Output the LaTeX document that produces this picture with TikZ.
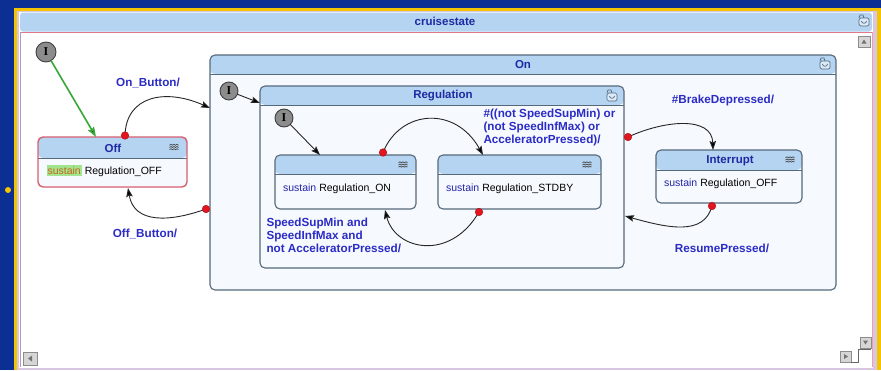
\documentclass[tikz,border=0pt]{standalone}
\usepackage{fontspec}
\setmainfont{Liberation Sans}
\newfontfamily\serifbold{Liberation Serif}
\usetikzlibrary{arrows.meta,calc}

\definecolor{deskblue}{HTML}{0B2F93}
\definecolor{frameyellow}{HTML}{F4C400}
\definecolor{winedge}{HTML}{D9C6E2}
\definecolor{headblue}{HTML}{B5D4F2}
\definecolor{bodyblue}{HTML}{F6FAFE}
\definecolor{edgegray}{HTML}{56697A}
\definecolor{labelblue}{HTML}{2B2BC6}
\definecolor{titleblue}{HTML}{1E2AA2}
\definecolor{dotred}{HTML}{E3151E}
\definecolor{offred}{HTML}{D65F70}
\definecolor{barred}{HTML}{E27887}
\definecolor{initgray}{HTML}{8C8C8C}
\definecolor{initgreen}{HTML}{38A838}
\definecolor{susgreen}{HTML}{A2E58E}
\definecolor{susorange}{HTML}{C8641E}
\definecolor{btngray}{HTML}{D6D6D6}

\tikzset{
  stateshape/.style={draw=edgegray, line width=1.1pt, rounded corners=5pt,
    fill=bodyblue, anchor=north west, inner sep=0pt,
    path picture={
      \fill[headblue] (path picture bounding box.north west) rectangle
        ([yshift=-#1]path picture bounding box.north east);
      \draw[edgegray, line width=1pt]
        ([yshift=-#1]path picture bounding box.north west) --
        ([yshift=-#1]path picture bounding box.north east);}},
  titletext/.style={font=\bfseries\fontsize{11.5}{13}\selectfont, text=titleblue},
  bodytext/.style={font=\fontsize{10.5}{12}\selectfont, text=black, anchor=base west},
  kwtext/.style={font=\fontsize{10.5}{12}\selectfont, text=labelblue!85!black, anchor=base west},
  lbl/.style={font=\bfseries\fontsize{11.7}{13}\selectfont, text=labelblue, align=left},
  initstate/.style={circle, draw=black!75, line width=0.9pt, fill=initgray,
    minimum size=#1, inner sep=0pt, font=\serifbold\bfseries\fontsize{12}{12}\selectfont},
  trans/.style={draw=black!85, line width=0.9pt,
    -{Stealth[length=9pt, width=6.5pt, inset=1.5pt, fill=black]}},
  reddot/.style={fill=dotred, draw=dotred!70!black, line width=0.4pt},
  leaficon/.pic={
    \foreach \dy in {-2.2,0,2.2}
      \draw[black!70, line width=0.7pt]
        (-4.5,\dy) -- (-3,\dy-1) -- (-1.5,\dy) -- (0,\dy-1) -- (1.5,\dy) -- (3,\dy-1) -- (4.5,\dy);
  },
  compicon/.pic={
    \draw[edgegray, line width=0.7pt, fill=headblue!50!white, rounded corners=1.5pt]
      (-5,-3) rectangle (5,5);
    \draw[edgegray, line width=0.7pt] (-5,-3) -- (-4,-6) -- (-1,-6) -- (0,-3);
    \draw[edgegray, line width=0.7pt] (-2.5,0) .. controls (-2.5,3) and (2.5,3) .. (2.5,0);
  },
  scrollbtn/.style={draw=black!45, fill=btngray, line width=0.5pt}
}

\begin{document}
\begin{tikzpicture}[x=1pt, y=-1pt, every node/.append style={inner sep=0pt, outer sep=0pt}]
\useasboundingbox (0,0) rectangle (881,370);

% desktop, frame and window
\fill[deskblue] (0,0) rectangle (881,370);
\fill[frameyellow] (8,190) circle[radius=3pt];
\fill[frameyellow] (13.5,8) rectangle (881,370);
\fill[winedge] (16.5,10.5) rectangle (877,370);
\fill[white] (19,12) rectangle (873,367.5);
\fill[headblue, rounded corners=3pt] (20,12.5) rectangle (872,31.5);
\draw[barred, line width=1pt] (20,32) -- (872,32);
\draw[winedge!80!black, line width=0.6pt] (20,32) -- (20,367);
\draw[barred!70!white, line width=0.6pt] (872,32) -- (872,367);
\node[titletext] (wintitle) at (445,21.5) {cruisestate};
\pic at (864,21) {compicon};

% scroll buttons
\draw[scrollbtn] (858,36) rectangle (870,47);
\fill[black!55] (861.5,43.5) -- (866.5,43.5) -- (864,39.5) -- cycle;
\draw[scrollbtn] (860,337) rectangle (871,348);
\fill[black!55] (863,340.5) -- (868,340.5) -- (865.5,344.5) -- cycle;
\draw[scrollbtn] (840,351) rectangle (851,362);
\fill[black!55] (844,354) -- (844,359) -- (848,356.5) -- cycle;
\draw[black!60, line width=0.6pt] (851,362) -- (858,362) -- (858,349) -- (871,349);
\draw[scrollbtn] (23,352) rectangle (37,365);
\fill[black!55] (32,355.5) -- (32,361.5) -- (28,358.5) -- cycle;

% composite states
\node[stateshape=19pt, minimum width=626pt, minimum height=235pt] (on) at (210,55) {};
\node[titletext] (ontitle) at (523,64.5) {On};
\pic at (825,64) {compicon};

\node[stateshape=19pt, minimum width=364pt, minimum height=182pt] (reg) at (260,86) {};
\node[titletext] (regtitle) at (443,96) {Regulation};
\pic at (612,96) {compicon};

% leaf states
\node[stateshape=21pt, draw=offred, line width=1.4pt, minimum width=149pt, minimum height=50pt] (off) at (38,137) {};
\node[titletext] (offtitle) at (113,148) {Off};
\pic at (174,147.5) {leaficon};
\node[font=\fontsize{10.5}{12}\selectfont, fill=susgreen, text=susorange,
  inner xsep=1pt, inner ysep=1.5pt, anchor=base west] (offsus) at (46.5,174) {sustain};
\node[bodytext] (offbody) at ([xshift=3pt]offsus.base east) {Regulation\_OFF};

\node[stateshape=19pt, minimum width=141pt, minimum height=54pt] (ron) at (275,155) {};
\pic at (403,165) {leaficon};
\node[kwtext] (ronsus) at (283,191.5) {sustain};
\node[bodytext] (ronbody) at ([xshift=3pt]ronsus.base east) {Regulation\_ON};

\node[stateshape=19pt, minimum width=163pt, minimum height=54pt] (stdby) at (438,155) {};
\pic at (587,165) {leaficon};
\node[kwtext] (stdbysus) at (446,191.5) {sustain};
\node[bodytext] (stdbybody) at ([xshift=3pt]stdbysus.base east) {Regulation\_STDBY};

\node[stateshape=20pt, minimum width=146pt, minimum height=53pt] (intr) at (656,150) {};
\node[titletext] (intrtitle) at (730,160.5) {Interrupt};
\pic at (790,160) {leaficon};
\node[kwtext] (intrsus) at (664,186) {sustain};
\node[bodytext] (intrbody) at ([xshift=3pt]intrsus.base east) {Regulation\_OFF};

% initial pseudo-states
\node[initstate=20pt] (ini0) at (46,52) {I};
\node[initstate=18pt] (ini1) at (229,91) {I};
\node[initstate=18pt] (ini2) at (284,118) {I};

% connector end points on state borders
\coordinate (offin)   at (96,137);
\coordinate (onleft)  at (210,108);
\coordinate (regleft) at (260,103);
\coordinate (ronin)   at (320,155);
\coordinate (offdot)  at (125,135.5);
\coordinate (ondot)   at (206,209);
\coordinate (offback) at (128,188);
\coordinate (rondot)  at (383,152.5);
\coordinate (stdbyin) at (483,155);
\coordinate (stdbydot) at (479,212);
\coordinate (ronback) at (385,210);
\coordinate (regdot)  at (628,137);
\coordinate (intrin)  at (713,150);
\coordinate (intrdot) at (712,206);
\coordinate (regback) at (625,216);

% default transitions
\draw[line width=1.6pt, initgreen, -{Stealth[length=10pt, width=7pt, inset=1.5pt, fill=black!80]}] (ini0) -- (offin);
\draw[trans] (ini1) -- (regleft);
\draw[trans] (ini2) -- (ronin);

% transitions
\draw[trans] (offdot) .. controls (126,96) and (165,88) .. (onleft);
\draw[trans] (ondot) .. controls (170,222) and (134,224) .. (offback);
\draw[trans] (rondot) .. controls (400,110) and (455,105) .. (stdbyin);
\draw[trans] (stdbydot) .. controls (450,262) and (395,250) .. (ronback);
\draw[trans] (regdot) .. controls (665,120) and (712,116) .. (intrin);
\draw[trans] (intrdot) .. controls (704,236) and (668,228) .. (regback);

\foreach \d in {offdot, ondot, rondot, stdbydot, regdot, intrdot}
  \draw[reddot] (\d) circle[radius=3.8pt];

% transition labels
\node[lbl] (lonbtn)  at (148,83)  {On\_Button/};
\node[lbl] (loffbtn) at (145,233.5) {Off\_Button/};
\node[lbl] (lbrake)  at (723,100) {\#BrakeDepressed/};
\node[lbl] (lresume) at (722,248.5) {ResumePressed/};
\node[lbl, anchor=north west] (lstdby) at (483.5,109.5)
  {\#((not SpeedSupMin) or\\(not SpeedInfMax) or\\AcceleratorPressed)/};
\node[lbl, anchor=north west] (lron) at (266.5,218.5)
  {SpeedSupMin and\\SpeedInfMax and\\not AcceleratorPressed/};
\end{tikzpicture}
\end{document}
